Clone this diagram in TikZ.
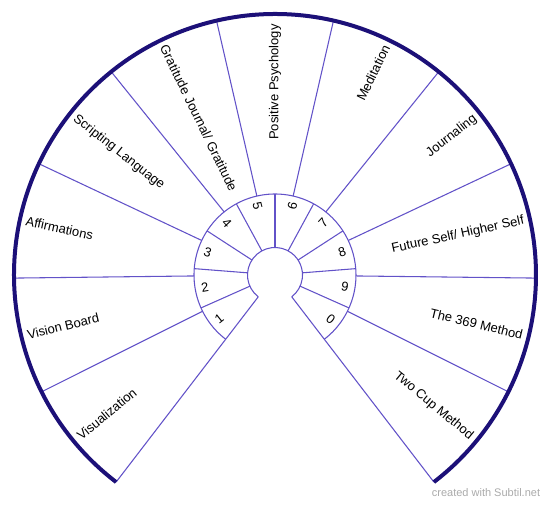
\documentclass[tikz,border=0pt]{standalone}
\usepackage{fontspec}
\setmainfont{Liberation Sans}
\definecolor{rimblue}{RGB}{28,16,120}
\definecolor{spokeblue}{RGB}{98,82,200}
\definecolor{markgray}{RGB}{170,170,170}
\begin{document}
\begin{tikzpicture}[x=0.75pt,y=0.75pt,
  spoke/.style={spokeblue,line width=0.8pt},
  rim/.style={rimblue,line width=3pt},
  lbl/.style={inner sep=0pt,font=\fontsize{9.75}{11}\selectfont},
  num/.style={inner sep=0pt,font=\fontsize{9.75}{11}\selectfont}]
\useasboundingbox (-275,-230) rectangle (275,275);
% hub and number ring
\draw[spoke] (232.5:27.5) arc[start angle=232.5,end angle=-52.5,radius=27.5];
\draw[spoke] (232.5:81) arc[start angle=232.5,end angle=-52.5,radius=81];
% gap edges
\draw[spoke] (232.5:27.5) -- (232.5:261);
\draw[spoke] (-52.5:27.5) -- (-52.5:261);
% number ring dividers
\draw[spoke] (204:27.5) -- (204:81);
\draw[spoke] (175.5:27.5) -- (175.5:81);
\draw[spoke] (147:27.5) -- (147:81);
\draw[spoke] (118.5:27.5) -- (118.5:81);
\draw[spoke] (90:27.5) -- (90:81);
\draw[spoke] (61.5:27.5) -- (61.5:81);
\draw[spoke] (33:27.5) -- (33:81);
\draw[spoke] (4.5:27.5) -- (4.5:81);
\draw[spoke] (-24:27.5) -- (-24:81);
% outer dividers
\draw[spoke] (206.59:81) -- (206.59:261);
\draw[spoke] (180.68:81) -- (180.68:261);
\draw[spoke] (154.77:81) -- (154.77:261);
\draw[spoke] (128.86:81) -- (128.86:261);
\draw[spoke] (102.95:81) -- (102.95:261);
\draw[spoke] (77.05:81) -- (77.05:261);
\draw[spoke] (51.14:81) -- (51.14:261);
\draw[spoke] (25.23:81) -- (25.23:261);
\draw[spoke] (-0.68:81) -- (-0.68:261);
\draw[spoke] (-26.59:81) -- (-26.59:261);
% outer rim
\draw[rim] (232.5:261) arc[start angle=232.5,end angle=-52.5,radius=261];
% numbers
\node[num,rotate=38.25] (n1) at (218.25:71) {1};
\node[num,rotate=9.75] (n2) at (189.75:71) {2};
\node[num,rotate=-18.75] (n3) at (161.25:71) {3};
\node[num,rotate=-47.25] (n4) at (132.75:71) {4};
\node[num,rotate=-75.75] (n5) at (104.25:71) {5};
\node[num,rotate=75.75] (n6) at (75.75:71) {6};
\node[num,rotate=47.25] (n7) at (47.25:71) {7};
\node[num,rotate=18.75] (n8) at (18.75:71) {8};
\node[num,rotate=-9.75] (n9) at (-9.75:71) {9};
\node[num,rotate=-38.25] (n0) at (-38.25:71) {0};
% sector labels
\node[lbl,anchor=west,rotate=39.55] (visual) at (219.55:255) {Visualization};
\node[lbl,anchor=west,rotate=13.64] (board) at (193.64:255) {Vision Board};
\node[lbl,anchor=west,rotate=-12.27] (affirm) at (167.73:255) {Affirmations};
\node[lbl,anchor=west,rotate=-38.18] (script) at (141.82:255) {Scripting Language};
\node[lbl,anchor=west,rotate=-64.09] (grat) at (115.91:255) {Gratitude Journal/ Gratitude};
\node[lbl,anchor=east,rotate=90] (posit) at (90:251) {Positive Psychology};
\node[lbl,anchor=east,rotate=64.09] (medit) at (64.09:255) {Meditation};
\node[lbl,anchor=east,rotate=38.18] (journ) at (38.18:255) {Journaling};
\node[lbl,anchor=east,rotate=12.27] (future) at (12.27:255) {Future Self/ Higher Self};
\node[lbl,anchor=east,rotate=-13.64] (three) at (-13.64:255) {The 369 Method};
\node[lbl,anchor=east,rotate=-39.55] (twocup) at (-39.55:255) {Two Cup Method};
% watermark
\node[markgray,inner sep=0pt,font=\fontsize{8.25}{10}\selectfont] (mark) at (211,-218) {created with Subtil.net};
\end{tikzpicture}
\end{document}
